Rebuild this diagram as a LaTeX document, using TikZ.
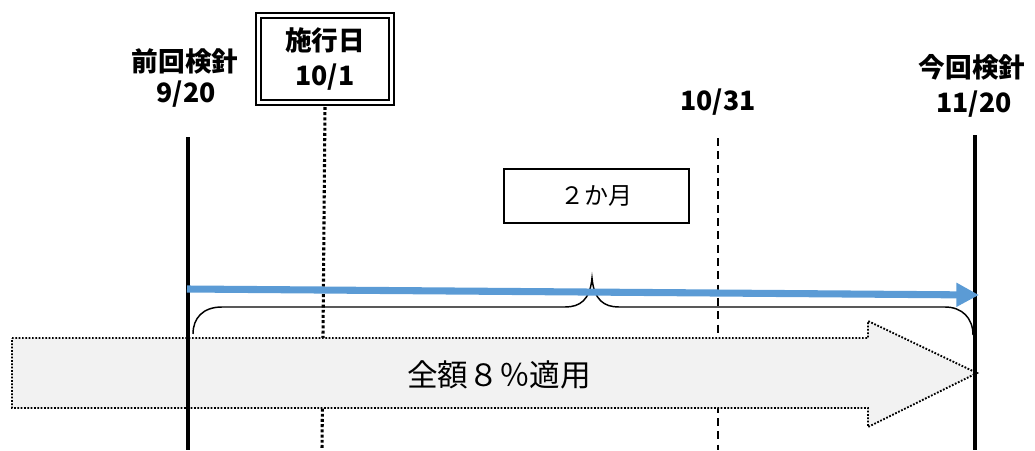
\documentclass[tikz,border=0pt]{standalone}
\usepackage{fontspec}
\newfontfamily\jp{Noto Sans CJK JP}
\usetikzlibrary{arrows.meta}
\definecolor{barblue}{HTML}{5B9BD5}
\definecolor{arrowfill}{HTML}{F2F2F2}
\tikzset{
  datelabel/.style={font=\jp\bfseries\fontsize{20}{24}\selectfont, align=center, inner sep=0pt},
  solidline/.style={line width=2.3pt},
  dotline/.style={line width=2.3pt, dash pattern=on 2.2pt off 1.7pt},
  dashline/.style={line width=1.7pt, dash pattern=on 6pt off 4pt},
  bigarrow/.style={fill=arrowfill, draw=black, line width=1.4pt, dash pattern=on 1.3pt off 1.2pt},
  bracestyle/.style={line width=1.1pt},
}
\begin{document}
\begin{tikzpicture}[x=0.75pt,y=-0.75pt]
\useasboundingbox (0,0) rectangle (1035,450);
% labels
\node[datelabel] (prevA) at (185,61) {前回検針};
\node[datelabel] (prevB) at (186,94) {9/20};
\node[datelabel] (nextA) at (972,67) {今回検針};
\node[datelabel] (nextB) at (974,104) {11/20};
\node[datelabel] (endoct) at (718,102) {10/31};
\node[draw, double, line width=1.4pt, double distance=2pt, minimum width=100pt, minimum height=65pt,
      inner sep=0pt, font=\jp\bfseries\fontsize{20}{26}\selectfont, align=center]
      (eff) at (325,59) {施行日\\10/1};
\node[draw, line width=1.5pt, minimum width=139pt, minimum height=40pt, inner sep=0pt,
      font=\jp\fontsize{18}{22}\selectfont] (two) at (596.5,196) {２か月};
% coordinates
\coordinate (Ltop) at (188,137);
\coordinate (Lbot) at (188,450);
\coordinate (Rtop) at (975,135);
\coordinate (Rbot) at (975,450);
\coordinate (Dbot) at (322,450);
\coordinate (Etop) at (718,138);
\coordinate (Ebot) at (718,450);
% dotted / dashed lines
\draw[dotline] (eff.south |- 0,107) -- (Dbot);
\draw[dashline] (Etop) -- (Ebot);
% big arrow
\path[bigarrow] (12,338) -- (868,338) -- (868,321) -- (977,373) -- (868,427) -- (868,408) -- (12,408) -- cycle;
\node[font=\jp\fontsize{23}{26}\selectfont, inner sep=0pt] (all) at (499,375) {全額８％適用};
% solid lines
\draw[solidline] (Ltop) -- (Lbot);
\draw[solidline] (Rtop) -- (Rbot);
% brace
\draw[bracestyle] (193,334) .. controls (193,318) and (203,307) .. (222,307) -- (565,307)
  .. controls (580,307) and (590,300) .. (592,278)
  .. controls (594,300) and (604,307) .. (619,307) -- (945,307)
  .. controls (962,307) and (973,318) .. (973,335);
% blue arrow
\coordinate (Bstart) at (187,289);
\coordinate (Bend) at (979,295);
\draw[barblue, line width=5.3pt, -{Triangle[length=17pt,width=17pt]}] (Bstart) -- (Bend);
\end{tikzpicture}
\end{document}
